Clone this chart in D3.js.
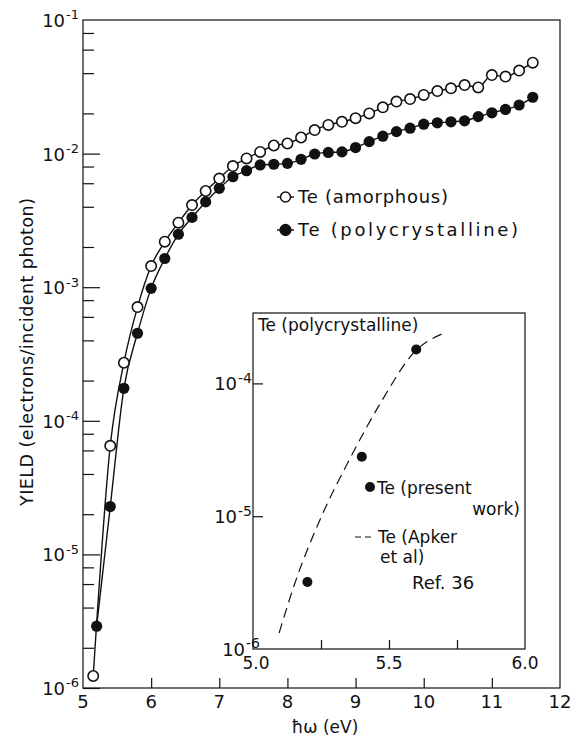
<!DOCTYPE html>
<html>
<head>
<meta charset="utf-8">
<script src="https://cdn.jsdelivr.net/npm/d3@7/dist/d3.min.js"></script>
<style>
  body { margin: 0; background: #fff; }
  text { font-family: "DejaVu Sans", sans-serif; fill: #111; }
</style>
</head>
<body>
<svg id="chart" width="573" height="744"></svg>
<script>
// Photoelectric yield of tellurium, amorphous vs polycrystalline films
const amorphousEnergy = [5.15, 5.4, 5.6, 5.8, 6.0, 6.2, 6.4, 6.6, 6.8, 7.0, 7.2, 7.4, 7.6, 7.8, 8.0, 8.2, 8.4,
  8.6, 8.8, 9.0, 9.2, 9.4, 9.6, 9.8, 10.0, 10.2, 10.4, 10.6, 10.8, 11.0, 11.2, 11.4, 11.6];
const amorphousYield = [1.23e-6, 6.5e-5, 2.72e-4, 7.1e-4, 1.44e-3, 2.19e-3, 3.04e-3, 4.12e-3, 5.25e-3, 6.5e-3,
  8.07e-3, 9.2e-3, 1.03e-2, 1.15e-2, 1.19e-2, 1.32e-2, 1.50e-2, 1.64e-2, 1.73e-2, 1.84e-2, 2.0e-2, 2.22e-2,
  2.45e-2, 2.56e-2, 2.75e-2, 2.94e-2, 3.08e-2, 3.26e-2, 3.13e-2, 3.87e-2, 3.77e-2, 4.18e-2, 4.79e-2];

const polyEnergy = [5.2, 5.4, 5.6, 5.8, 6.0, 6.2, 6.4, 6.6, 6.8, 7.0, 7.2, 7.4, 7.6, 7.8, 8.0, 8.2, 8.4,
  8.6, 8.8, 9.0, 9.2, 9.4, 9.6, 9.8, 10.0, 10.2, 10.4, 10.6, 10.8, 11.0, 11.2, 11.4, 11.6];
const polyYield = [2.9e-6, 2.28e-5, 1.75e-4, 4.52e-4, 9.8e-4, 1.64e-3, 2.49e-3, 3.33e-3, 4.35e-3, 5.5e-3,
  6.71e-3, 7.45e-3, 8.22e-3, 8.32e-3, 8.45e-3, 9.06e-3, 9.93e-3, 1.02e-2, 1.03e-2, 1.11e-2, 1.23e-2, 1.35e-2,
  1.46e-2, 1.55e-2, 1.66e-2, 1.70e-2, 1.73e-2, 1.76e-2, 1.89e-2, 2.02e-2, 2.14e-2, 2.31e-2, 2.64e-2];

// Inset: polycrystalline Te near threshold
const presentEnergy = [5.2, 5.4, 5.6];
const presentYield = [3.2e-6, 2.8e-5, 1.8e-4];
const apkerEnergy = [5.096, 5.154, 5.254, 5.357, 5.474, 5.592, 5.699];
const apkerYield = [1.32e-6, 3.13e-6, 1.02e-5, 2.73e-5, 7.42e-5, 1.71e-4, 2.38e-4];

// Axis ticks
const xTicks = [5, 6, 7, 8, 9, 10, 11, 12];
const yDecades = [-6, -5, -4, -3, -2, -1];
const yMinorMultipliers = [2, 4, 6, 8];
const insetXTicks = [5.0, 5.25, 5.5, 5.75, 6.0];
const insetXLabels = ["5.0", "5.5", "6.0"];
const insetYDecades = [-6, -5, -4];

const svg = d3.select("#chart");
const ink = "#111";

// ---------- main panel ----------
const x = d3.scaleLinear().domain([5, 12]).range([83, 560]);
const y = d3.scaleLog().domain([1e-6, 1e-1]).range([688, 20]);

svg.append("rect")
  .attr("x", x(5)).attr("y", y(1e-1))
  .attr("width", x(12) - x(5)).attr("height", y(1e-6) - y(1e-1))
  .attr("fill", "none").attr("stroke", ink).attr("stroke-width", 1.2);

const majorVals = yDecades.map(d => Math.pow(10, d));
const minorVals = [];
yDecades.slice(0, -1).forEach(d => yMinorMultipliers.forEach(m => minorVals.push(m * Math.pow(10, d))));

function styleAxis(g) {
  g.select(".domain").remove();
  g.selectAll(".tick line").attr("stroke", ink).attr("stroke-width", 1.2);
}

// y ticks point into the plot
svg.append("g").attr("transform", `translate(${x(5)},0)`)
  .call(d3.axisLeft(y).tickValues(minorVals).tickSize(-11).tickFormat(""))
  .call(styleAxis);
svg.append("g").attr("transform", `translate(${x(5)},0)`)
  .call(d3.axisLeft(y).tickValues(majorVals.slice(0, -1)).tickSize(-17).tickFormat(""))
  .call(styleAxis);

// power-of-ten labels
function powerLabel(g, xPos, yPos, exp, base, sup) {
  const t = g.append("text").attr("x", xPos).attr("y", yPos)
    .attr("text-anchor", "end").style("font-size", base + "px");
  t.append("tspan").text("10");
  t.append("tspan").attr("dy", -base * 0.42).attr("dx", 1).style("font-size", sup + "px").text("-" + exp);
}
const yLab = svg.append("g");
yDecades.forEach(d => powerLabel(yLab, 79, y(Math.pow(10, d)) + 7, Math.abs(d), 18, 13));

// x ticks
svg.append("g").attr("transform", `translate(0,${y(1e-6)})`)
  .call(d3.axisBottom(x).tickValues(xTicks.slice(1, -1)).tickSize(-10).tickFormat(""))
  .call(styleAxis);
svg.append("g").selectAll("text").data(xTicks).join("text")
  .attr("x", d => x(d)).attr("y", y(1e-6) + 20)
  .attr("text-anchor", "middle").style("font-size", "18px")
  .text(d => d);

// axis titles
svg.append("text").attr("x", x(8.55)).attr("y", 733)
  .attr("text-anchor", "middle").style("font-size", "17px")
  .text("ħω (eV)");
svg.append("text")
  .attr("transform", "translate(33,352) rotate(-90)")
  .attr("text-anchor", "middle").style("font-size", "17.5px")
  .attr("textLength", 308).attr("lengthAdjust", "spacing")
  .text("YIELD (electrons/incident photon)");

// curves
const line = d3.line().x(d => x(d[0])).y(d => y(d[1])).curve(d3.curveMonotoneX);
const amorphous = amorphousEnergy.map((e, i) => [e, amorphousYield[i]]);
const poly = polyEnergy.map((e, i) => [e, polyYield[i]]);

svg.append("path").datum(amorphous).attr("d", line)
  .attr("fill", "none").attr("stroke", ink).attr("stroke-width", 1.4);
svg.append("path").datum(poly).attr("d", line)
  .attr("fill", "none").attr("stroke", ink).attr("stroke-width", 1.4);

svg.append("g").selectAll("circle").data(poly).join("circle")
  .attr("cx", d => x(d[0])).attr("cy", d => y(d[1])).attr("r", 5.6)
  .attr("fill", ink);
svg.append("g").selectAll("circle").data(amorphous).join("circle")
  .attr("cx", d => x(d[0])).attr("cy", d => y(d[1])).attr("r", 5.2)
  .attr("fill", "#fff").attr("stroke", ink).attr("stroke-width", 1.6);

// legend
const legend = svg.append("g");
[["Te (amorphous)", false, 197, 150], ["Te (polycrystalline)", true, 230, 220]].forEach(([label, filled, ly, len]) => {
  legend.append("line").attr("x1", 277).attr("x2", 294).attr("y1", ly).attr("y2", ly)
    .attr("stroke", ink).attr("stroke-width", 1.4);
  legend.append("circle").attr("cx", 285.5).attr("cy", ly).attr("r", filled ? 5.4 : 5)
    .attr("fill", filled ? ink : "#fff").attr("stroke", ink).attr("stroke-width", 1.5);
  legend.append("text").attr("x", 298).attr("y", ly + 6).style("font-size", "18px")
    .attr("textLength", len).attr("lengthAdjust", "spacing").text(label);
});

// ---------- inset ----------
const xi = d3.scaleLinear().domain([5, 6]).range([253, 525]);
const yi = d3.scaleLog().domain([1e-6, Math.pow(10, -3.47)]).range([649, 313]);

svg.append("rect")
  .attr("x", xi(5)).attr("y", yi.range()[1])
  .attr("width", xi(6) - xi(5)).attr("height", yi.range()[0] - yi.range()[1])
  .attr("fill", "#fff").attr("stroke", ink).attr("stroke-width", 1.2);

svg.append("g").attr("transform", `translate(${xi(5)},0)`)
  .call(d3.axisLeft(yi).tickValues([1e-5, 1e-4]).tickSize(-10).tickFormat(""))
  .call(styleAxis);
svg.append("g").attr("transform", `translate(0,${yi(1e-6)})`)
  .call(d3.axisBottom(xi).tickValues(insetXTicks.slice(1, -1)).tickSize(-9).tickFormat(""))
  .call(styleAxis);

const yiLab = svg.append("g");
insetYDecades.forEach(d => powerLabel(yiLab, d === -6 ? 260 : 252, yi(Math.pow(10, d)) + 7, Math.abs(d), 18, 14));
svg.append("g").selectAll("text").data(insetXLabels).join("text")
  .attr("x", d => xi(+d) + (d === "5.0" ? 3 : 0)).attr("y", yi(1e-6) + 20)
  .attr("text-anchor", "middle").style("font-size", "17px")
  .text(d => d);

const apkerLine = d3.line().x(d => xi(d[0])).y(d => yi(d[1])).curve(d3.curveMonotoneX);
svg.append("path").datum(apkerEnergy.map((e, i) => [e, apkerYield[i]])).attr("d", apkerLine)
  .attr("fill", "none").attr("stroke", ink).attr("stroke-width", 1.2)
  .attr("stroke-dasharray", "10,6");

svg.append("g").selectAll("circle").data(presentEnergy.map((e, i) => [e, presentYield[i]])).join("circle")
  .attr("cx", d => xi(d[0])).attr("cy", d => yi(d[1])).attr("r", 5)
  .attr("fill", ink);

svg.append("text").attr("x", 258).attr("y", 331).style("font-size", "17px").text("Te (polycrystalline)");

// inset legend
svg.append("circle").attr("cx", 370).attr("cy", 487).attr("r", 5).attr("fill", ink);
svg.append("text").attr("x", 377).attr("y", 494).style("font-size", "17px").text("Te (present");
svg.append("text").attr("x", 520).attr("y", 515).attr("text-anchor", "end").style("font-size", "17px").text("work)");
svg.append("line").attr("x1", 355).attr("x2", 374).attr("y1", 537).attr("y2", 537)
  .attr("stroke", ink).attr("stroke-width", 1.2).attr("stroke-dasharray", "6,4");
svg.append("text").attr("x", 378).attr("y", 543).style("font-size", "17px").text("Te (Apker");
svg.append("text").attr("x", 380).attr("y", 563).style("font-size", "17px").text("et al)");
svg.append("text").attr("x", 412).attr("y", 589).style("font-size", "18px").text("Ref. 36");
</script>
</body>
</html>
